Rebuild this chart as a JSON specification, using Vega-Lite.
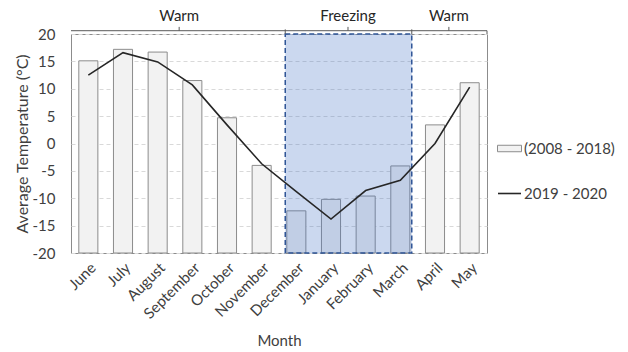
{
  "$schema": "https://vega.github.io/schema/vega-lite/v6.json",
  "width": 416,
  "height": 219,
  "autosize": {"type": "none"},
  "padding": {"left": 71, "top": 34, "right": 141, "bottom": 99},
  "background": "white",
  "config": {
    "font": "Lato",
    "view": {"stroke": "#8c8c8c", "strokeWidth": 1},
    "axis": {"labelFont": "Lato", "titleFont": "Lato", "labelColor": "#404040", "titleColor": "#404040", "titleFontWeight": "normal"},
    "axisY": {"tickCount": 10, "labelOverlap": false, "labelFontSize": 15, "ticks": false, "domain": false, "labelPadding": 16, "titlePadding": 2, "titleFontSize": 16, "grid": true, "gridColor": "#d9d9d9", "gridDash": [4, 3], "labelExpr": "replace(datum.label, '−', '-')"},
    "legend": {"labelFont": "Lato", "labelColor": "#404040"}
  },
  "datasets": {
    "months": [
      {"month": "June", "avg": 15.1, "recent": 12.5},
      {"month": "July", "avg": 17.2, "recent": 16.6},
      {"month": "August", "avg": 16.7, "recent": 14.9},
      {"month": "September", "avg": 11.5, "recent": 10.7},
      {"month": "October", "avg": 4.7, "recent": 3.4},
      {"month": "November", "avg": -4.0, "recent": -3.7},
      {"month": "December", "avg": -12.3, "recent": -8.8},
      {"month": "January", "avg": -10.2, "recent": -13.8},
      {"month": "February", "avg": -9.6, "recent": -8.6},
      {"month": "March", "avg": -4.1, "recent": -6.7},
      {"month": "April", "avg": 3.4, "recent": 0.0},
      {"month": "May", "avg": 11.1, "recent": 10.3}
    ]
  },
  "resolve": {"scale": {"x": "independent"}},
  "layer": [
    {
      "data": {"name": "months"},
      "mark": {"type": "bar", "stroke": "#8c8c8c", "strokeWidth": 1},
      "encoding": {
        "x": {
          "field": "month", "type": "nominal", "sort": null,
          "scale": {"paddingInner": 0.45, "paddingOuter": 0.225},
          "axis": {"title": "Month", "titleFontSize": 15, "titlePadding": 12, "labelAngle": -45, "labelFontSize": 15, "ticks": false, "domain": false, "labelPadding": 7}
        },
        "y": {
          "field": "avg", "type": "quantitative",
          "scale": {"domain": [-20, 20], "nice": false, "zero": false},
          "axis": {"title": "Average Temperature (°C)", "values": [-20, -15, -10, -5, 0, 5, 10, 15, 20], "tickCount": 10}
        },
        "y2": {"datum": -20},
        "fill": {
          "datum": "(2008 - 2018)", "type": "nominal",
          "scale": {"range": ["#f2f2f2"]},
          "legend": {"title": null, "orient": "none", "legendX": 426, "legendY": 102, "labelFontSize": 15, "labelOffset": 2, "symbolType": "M-1,-0.27H1V0.27H-1Z", "symbolSize": 576, "symbolStrokeColor": "#8c8c8c", "symbolStrokeWidth": 1, "padding": 0}
        }
      }
    },
    {
      "data": {"values": [{"x": 6.18, "x2": 9.83, "y": -20, "y2": 20}]},
      "mark": {"type": "rect", "fill": "#4472c4", "fillOpacity": 0.28, "stroke": "#2f5597", "strokeWidth": 1.5, "strokeDash": [5, 3]},
      "encoding": {
        "x": {"field": "x", "type": "quantitative", "scale": {"domain": [0, 12], "nice": false, "zero": false}, "axis": null},
        "x2": {"field": "x2"},
        "y": {"field": "y", "type": "quantitative", "axis": {"title": "Average Temperature (°C)", "values": [-20, -15, -10, -5, 0, 5, 10, 15, 20], "tickCount": 10}},
        "y2": {"field": "y2"}
      }
    },
    {
      "data": {"values": [
        {"x": 0, "x2": 12, "y": 20.6}
      ]},
      "mark": {"type": "rule", "stroke": "#595959", "strokeWidth": 1},
      "encoding": {
        "x": {"field": "x", "type": "quantitative", "scale": {"domain": [0, 12], "nice": false, "zero": false}, "axis": null},
        "x2": {"field": "x2"},
        "y": {"field": "y", "type": "quantitative", "axis": {"title": "Average Temperature (°C)", "values": [-20, -15, -10, -5, 0, 5, 10, 15, 20], "tickCount": 10}}
      }
    },
    {
      "data": {"values": [
        {"x": 6.18, "y": 20, "y2": 20.85},
        {"x": 9.83, "y": 20, "y2": 20.85},
        {"x": 12, "y": 20, "y2": 20.6},
        {"x": 3.12, "y": 20.6, "y2": 21.3},
        {"x": 7.99, "y": 20.6, "y2": 21.3},
        {"x": 10.9, "y": 20.6, "y2": 21.3}
      ]},
      "mark": {"type": "rule", "stroke": "#595959", "strokeWidth": 1},
      "encoding": {
        "x": {"field": "x", "type": "quantitative", "scale": {"domain": [0, 12], "nice": false, "zero": false}, "axis": null},
        "y": {"field": "y", "type": "quantitative", "axis": {"title": "Average Temperature (°C)", "values": [-20, -15, -10, -5, 0, 5, 10, 15, 20], "tickCount": 10}},
        "y2": {"field": "y2"}
      }
    },
    {
      "data": {"values": [
        {"x": 3.12, "y": 23.3, "label": "Warm"},
        {"x": 7.99, "y": 23.3, "label": "Freezing"},
        {"x": 10.9, "y": 23.3, "label": "Warm"}
      ]},
      "mark": {"type": "text", "fontSize": 15, "color": "#262626", "baseline": "middle", "align": "center"},
      "encoding": {
        "x": {"field": "x", "type": "quantitative", "scale": {"domain": [0, 12], "nice": false, "zero": false}, "axis": null},
        "y": {"field": "y", "type": "quantitative", "axis": {"title": "Average Temperature (°C)", "values": [-20, -15, -10, -5, 0, 5, 10, 15, 20], "tickCount": 10}},
        "text": {"field": "label"}
      }
    },
    {
      "data": {"name": "months"},
      "mark": {"type": "line", "strokeWidth": 1.6},
      "encoding": {
        "x": {"field": "month", "type": "nominal", "sort": null, "scale": {"paddingInner": 0.45, "paddingOuter": 0.225}, "axis": null},
        "y": {"field": "recent", "type": "quantitative", "axis": {"title": "Average Temperature (°C)", "values": [-20, -15, -10, -5, 0, 5, 10, 15, 20], "tickCount": 10}},
        "stroke": {
          "datum": "2019 - 2020", "type": "nominal",
          "scale": {"range": ["#262626"]},
          "legend": {"title": null, "orient": "none", "legendX": 426, "legendY": 147, "labelFontSize": 15, "labelOffset": 2, "symbolType": "stroke", "symbolSize": 529, "symbolStrokeWidth": 1.6, "padding": 0}
        }
      }
    }
  ]
}
